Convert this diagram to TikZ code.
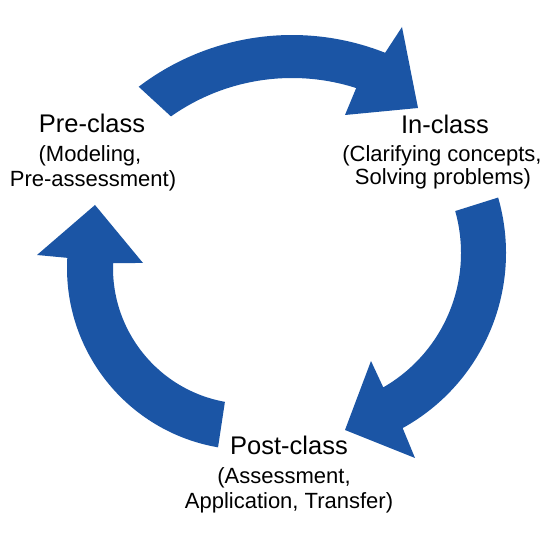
\documentclass[tikz,border=0pt]{standalone}
\usepackage{fontspec}
\setmainfont{Liberation Sans}
\usetikzlibrary{calc}
\definecolor{cycleblue}{RGB}{27,85,165}
\tikzset{
  arrowshape/.style={fill=cycleblue, draw=none},
  title/.style={anchor=base, inner sep=0pt, font=\fontsize{25.5}{29}\selectfont},
  sub/.style={anchor=base, inner sep=0pt, font=\fontsize{22}{25}\selectfont},
}
\begin{document}
\begin{tikzpicture}[x=1pt, y=1pt]
\useasboundingbox (0,0) rectangle (558,533);
\fill[white] (0,0) rectangle (558,533);

\coordinate (ctop) at (292,245);
\coordinate (cright) at (306,280);
\coordinate (cleft) at (249,265);

% top arrow (Pre-class -> In-class)
\path[arrowshape] ($(ctop)+(127.3:253)$)
  arc[start angle=127.3, end angle=68.4, radius=253]
  -- (402,506) -- (418,425) -- (345,418)
  -- ($(ctop)+(72.2:210)$)
  arc[start angle=72.2, end angle=125.2, radius=210]
  -- cycle;

% right arrow (In-class -> Post-class)
\path[arrowshape] ($(cright)+(16.1:200)$)
  arc[start angle=16.1, end angle=-61.1, radius=200]
  -- (415,75) -- (345,103) -- (371,172)
  -- ($(cright)+(-60.1:155)$)
  arc[start angle=-60.1, end angle=15.7, radius=155]
  -- cycle;

% left arrow (Post-class -> Pre-class)
\path[arrowshape] ($(cleft)+(260.2:182)$)
  arc[start angle=260.2, end angle=176.8, radius=182]
  -- (37,278) -- (95,328) -- (143,270)
  -- ($(cleft)+(177.9:136)$)
  arc[start angle=177.9, end angle=259.8, radius=136]
  -- cycle;

% labels
\node[title] (pre1) at (92,400) {Pre-class};
\node[sub] (pre2) at (90,371) {(Modeling,};
\node[sub] (pre3) at (93,346.5) {Pre-assessment)};

\node[title] (in1) at (445,399) {In-class};
\node[sub] (in2) at (442,371.5) {(Clarifying concepts,};
\node[sub] (in3) at (443,348) {Solving problems)};

\node[title] (post1) at (289,78) {Post-class};
\node[sub] (post2) at (284,49) {(Assessment,};
\node[sub] (post3) at (289,24) {Application, Transfer)};
\end{tikzpicture}
\end{document}
